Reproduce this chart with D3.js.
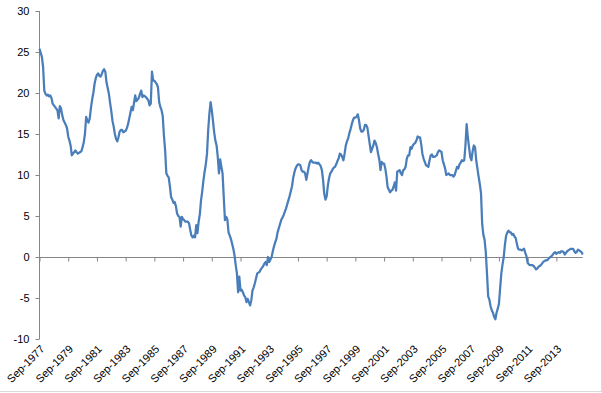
<!DOCTYPE html>
<html>
<head>
<meta charset="utf-8">
<script src="https://cdn.jsdelivr.net/npm/d3@7"></script>
<style>
  html, body { margin: 0; padding: 0; background: #fff; }
  svg { display: block; }
  text { font-family: "Liberation Sans", Arial, sans-serif; font-size: 11px; fill: #000; }
</style>
</head>
<body>
<svg id="chart" width="602" height="393"></svg>
<script>
// ---- data (monthly, starting Sep-1977) ----
const startMonth = "Sep-1977";
const yTicks = [-10, -5, 0, 5, 10, 15, 20, 25, 30];
const tickLabels = ["Sep-1977","Sep-1979","Sep-1981","Sep-1983","Sep-1985","Sep-1987","Sep-1989",
  "Sep-1991","Sep-1993","Sep-1995","Sep-1997","Sep-1999","Sep-2001","Sep-2003","Sep-2005",
  "Sep-2007","Sep-2009","Sep-2011","Sep-2013"];
const values = [
  25.4, 24.9, 24.4, 23.2, 20.3, 19.9, 19.7, 19.8, 19.6, 19.7, 19.4, 18.7,
  18.5, 18.3, 18.1, 17.9, 16.9, 18.4, 18.1, 17.3, 16.7, 16.4, 16.1, 15.7,
  14.7, 14.2, 13.6, 12.4, 12.6, 12.8, 13.0, 12.8, 12.6, 12.7, 12.8, 12.9,
  13.4, 14.0, 15.0, 17.1, 16.6, 16.4, 16.9, 18.2, 19.2, 20.0, 21.1, 21.8,
  22.2, 22.4, 22.1, 22.0, 22.3, 22.7, 22.9, 22.6, 21.3, 20.6, 19.9, 18.8,
  17.8, 16.6, 15.9, 15.0, 14.4, 14.1, 14.6, 15.3, 15.5, 15.5, 15.2, 15.3,
  15.4, 15.7, 16.2, 16.9, 17.6, 18.3, 17.9, 18.8, 19.7, 19.0, 19.2, 19.4,
  19.9, 20.3, 19.5, 19.7, 19.6, 19.5, 19.3, 19.1, 18.5, 18.7, 22.6, 21.5,
  21.5, 21.3, 21.1, 20.7, 18.9, 18.3, 17.9, 17.2, 14.8, 13.0, 10.2, 9.9,
  9.7, 8.6, 7.3, 7.0, 6.6, 6.7, 6.2, 5.3, 5.0, 4.9, 3.7, 4.9,
  4.6, 4.5, 4.3, 4.3, 4.3, 4.1, 3.3, 2.6, 2.4, 2.6, 2.4, 3.9,
  2.9, 4.3, 5.2, 6.9, 8.0, 9.3, 10.4, 11.3, 12.6, 15.5, 17.5, 18.9,
  17.9, 16.6, 15.2, 14.2, 13.6, 12.2, 10.2, 11.9, 11.0, 10.2, 7.3, 4.5,
  4.9, 4.6, 3.0, 2.6, 2.2, 1.6, 1.0, 0.2, -1.0, -2.0, -4.3, -2.4,
  -4.1, -4.0, -4.3, -4.7, -4.9, -5.5, -5.1, -5.5, -5.9, -5.3, -4.1, -3.7,
  -3.2, -2.6, -2.0, -1.9, -1.8, -1.5, -1.3, -1.1, -0.8, -0.6, -1.0, 0.0,
  -0.6, -0.3, 0.0, 0.7, 1.3, 1.8, 2.2, 3.0, 3.5, 4.0, 4.5, 4.8,
  5.1, 5.5, 5.9, 6.4, 6.9, 7.4, 8.0, 8.6, 9.6, 10.3, 10.8, 11.1,
  11.3, 11.3, 11.2, 10.6, 10.4, 10.4, 10.2, 9.4, 10.2, 11.0, 11.6, 11.8,
  11.6, 11.5, 11.5, 11.5, 11.4, 11.5, 11.3, 11.1, 10.6, 9.4, 7.7, 7.0,
  7.4, 8.7, 9.6, 10.2, 10.4, 10.7, 10.9, 11.0, 11.3, 11.7, 12.0, 12.6,
  12.5, 12.2, 11.8, 12.6, 13.6, 14.1, 14.5, 15.1, 15.6, 16.2, 16.7, 17.0,
  17.0, 17.1, 17.4, 16.7, 15.7, 15.3, 15.3, 15.5, 16.1, 16.1, 15.8, 14.8,
  13.8, 12.8, 13.2, 13.6, 14.2, 13.9, 13.4, 12.6, 11.9, 10.6, 11.6, 11.4,
  11.4, 10.8, 9.8, 8.5, 8.2, 7.9, 8.1, 8.2, 8.6, 9.1, 8.1, 10.4,
  10.5, 10.6, 10.2, 10.0, 10.6, 10.7, 11.0, 12.0, 12.4, 12.4, 13.4, 13.2,
  13.6, 13.8, 13.9, 14.2, 14.7, 14.6, 14.6, 13.8, 12.6, 12.0, 11.6, 11.2,
  11.1, 11.0, 11.8, 12.4, 12.5, 12.2, 12.2, 12.3, 12.4, 12.8, 13.0, 12.9,
  12.8, 11.8, 11.3, 10.8, 10.0, 10.1, 10.2, 10.0, 10.0, 10.0, 9.8, 10.0,
  10.5, 11.0, 10.8, 11.3, 11.5, 11.8, 11.7, 11.8, 13.6, 16.2, 14.6, 13.4,
  12.2, 11.8, 12.9, 13.6, 13.4, 11.8, 10.8, 9.8, 8.9, 7.8, 4.0, 2.7,
  2.1, 0.6, -2.0, -4.8, -5.2, -6.0, -6.5, -6.8, -7.3, -7.6, -6.8, -6.3,
  -5.7, -3.8, -2.0, -0.9, 0.0, 1.5, 2.6, 3.0, 3.2, 3.0, 3.0, 2.7,
  2.8, 2.5, 2.3, 1.6, 1.0, 0.9, 0.9, 0.8, 0.9, 1.0, 0.5, 0.1,
  -0.7, -0.9, -1.0, -1.0, -1.0, -1.1, -1.3, -1.5, -1.4, -1.2, -1.1, -1.0,
  -0.8, -0.6, -0.5, -0.4, -0.4, -0.3, -0.1, 0.0, 0.1, 0.3, 0.5, 0.6,
  0.4, 0.5, 0.6, 0.5, 0.7, 0.7, 0.6, 0.3, 0.5, 0.7, 0.8, 0.9,
  1.0, 1.0, 1.0, 0.7, 0.5, 0.6, 0.9, 0.8, 0.7, 0.6, 0.3
];

// month categories
const parseM = d3.timeParse("%b-%Y");
const fmtM = d3.timeFormat("%b-%Y");
const start = parseM(startMonth);
const months = values.map((v, i) => fmtM(d3.timeMonth.offset(start, i)));

const svg = d3.select("#chart");

// chart border (right/bottom visible)
svg.append("line").attr("x1", 601.5).attr("x2", 601.5).attr("y1", 0).attr("y2", 392)
  .attr("stroke", "#d9d9d9").attr("stroke-width", 1);
svg.append("line").attr("x1", 0).attr("x2", 602).attr("y1", 391.5).attr("y2", 391.5)
  .attr("stroke", "#d9d9d9").attr("stroke-width", 1);

const x = d3.scalePoint().domain(months).range([39.5, 582.7]);
const y = d3.scaleLinear().domain([-10, 30]).range([339, 11]);

const axisColor = "#868686";

// y axis
const yAxis = svg.append("g").attr("transform", "translate(39.5,0)")
  .call(d3.axisLeft(y).tickValues(yTicks).tickSize(4).tickPadding(6).tickFormat(d => String(d)));
yAxis.select(".domain").attr("stroke", axisColor).attr("d", `M0,${y(30)}V${y(-10)}`);
yAxis.selectAll(".tick line").attr("stroke", axisColor);
yAxis.selectAll(".tick text").attr("fill", "#000").style("font-family", "'Liberation Sans', Arial, sans-serif").style("font-size", "11px");

// x axis at zero
const xAxis = svg.append("g").attr("transform", `translate(0,${Math.round(y(0)) + 0.5})`)
  .call(d3.axisBottom(x).tickValues(tickLabels).tickSize(4).tickFormat(""));
xAxis.select(".domain").attr("stroke", axisColor).attr("d", `M${x.range()[0]},0H${x.range()[1]}`);
xAxis.selectAll(".tick line").attr("stroke", axisColor);

// x labels at bottom, rotated
svg.append("g").selectAll("text").data(tickLabels).join("text")
  .attr("transform", d => `translate(${x(d) + 3},${347}) rotate(-45)`)
  .attr("text-anchor", "end")
  .attr("dy", "0.35em")
  .text(d => d);

// line
const line = d3.line().x((d, i) => x(months[i])).y(d => y(d));
svg.append("path").datum(values)
  .attr("fill", "none")
  .attr("stroke", "#4a7ebb")
  .attr("stroke-width", 2.25)
  .attr("stroke-linejoin", "round")
  .attr("d", line);
</script>
</body>
</html>
